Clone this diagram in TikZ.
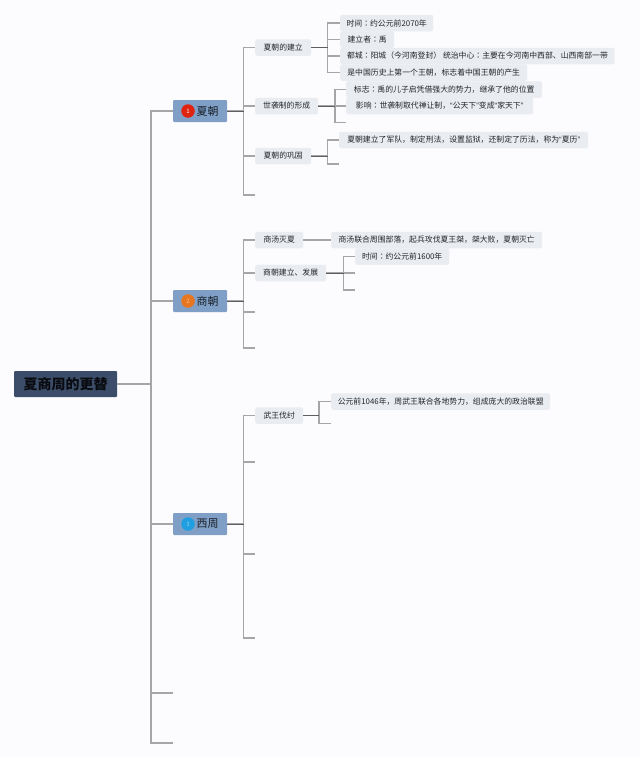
\documentclass[tikz,border=0pt]{standalone}
\usepackage{fontspec}
\setmainfont{Noto Sans CJK SC}
\newfontfamily\latinq{Liberation Sans}
\newfontfamily\tcfont{Noto Sans CJK TC}
\newcommand{\myopenq}{{\latinq “}}
\newcommand{\mycloseq}{{\latinq ”}}
\newcommand{\mycolon}{{\tcfont ：}}
\definecolor{bgc}{HTML}{FCFCFE}
\definecolor{rootc}{HTML}{3B4D68}
\definecolor{topicc}{HTML}{7F9FC6}
\definecolor{leafc}{HTML}{E9ECF1}
\definecolor{txtc}{HTML}{222529}
\definecolor{linec}{HTML}{A6A6A6}
\definecolor{stemc}{HTML}{5E5E5E}
\definecolor{badgea}{HTML}{E0230E}
\definecolor{badgeb}{HTML}{E8761E}
\definecolor{badgec}{HTML}{1F9FE0}
\tikzset{
  rootbox/.style={anchor=west,fill=rootc,rounded corners=1pt,inner sep=0pt,minimum width=103pt,minimum height=26pt,font=\fontsize{14}{16}\selectfont\bfseries,text=black!85!rootc},
  topicbox/.style={anchor=west,fill=topicc,rounded corners=1pt,inner sep=0pt,minimum width=54pt,minimum height=22pt,font=\fontsize{11}{13}\selectfont,text=black!80!topicc},
  leafbox/.style={anchor=west,fill=leafc,rounded corners=2pt,inner sep=0pt,minimum height=16.5pt,font=\fontsize{7.85}{9}\selectfont,text=txtc},
  conn/.style={draw=linec,line width=1.2pt},
  stem/.style={draw=stemc,line width=1pt},
  badge/.style={circle,inner sep=0pt,minimum size=13.5pt,font=\fontsize{6}{7}\selectfont}
}
\begin{document}
\begin{tikzpicture}[x=1pt,y=-1pt]
\useasboundingbox (0,0) rectangle (640,758);
\fill[bgc] (0,0) rectangle (640,758);
% junction columns
\coordinate (j0) at (151,0);
\coordinate (j1) at (243.5,0);
\coordinate (ja) at (327.5,0);
\coordinate (jb) at (335,0);
\coordinate (jc) at (327.5,0);
\coordinate (jd) at (343.5,0);
\coordinate (je) at (319,0);
% nodes
\node[rootbox] (root) at (14,384) {夏商周的更替};
\node[topicbox] (xia) at (173,111) {\hspace{15pt}夏朝};
\node[topicbox] (shang) at (173,301) {\hspace{15pt}商朝};
\node[topicbox] (zhou) at (173,524) {\hspace{15pt}西周};
\node[badge,fill=badgea,text=white] (b1) at (188,111) {1};
\node[badge,fill=badgeb,text=white!60!badgeb] (b2) at (188,301) {2};
\node[badge,fill=badgec,text=white!50!badgec] (b3) at (188,524) {3};
\coordinate (top4) at (173,693);
\coordinate (top5) at (173,743);
% Xia
\node[leafbox,minimum width=56pt] (x1) at (255,47.5) {夏朝的建立};
\node[leafbox,minimum width=63pt] (x2) at (255,106) {世袭制的形成};
\node[leafbox,minimum width=56pt] (x3) at (255,156) {夏朝的巩固};
\coordinate (x4) at (255,195);
\node[leafbox,minimum width=93pt] (x11) at (340,23) {时间\mycolon 约公元前2070年};
\node[leafbox,minimum width=54pt] (x12) at (340,39.5) {建立者\mycolon 禹};
\node[leafbox,minimum width=274.5pt] (x13) at (340,56) {都城\mycolon 阳城（今河南登封） 统治中心\mycolon 主要在今河南中西部、山西南部一带};
\node[leafbox,minimum width=187pt] (x14) at (340,72.5) {是中国历史上第一个王朝，标志着中国王朝的产生};
\node[leafbox,minimum width=196pt] (x21) at (346,89.5) {标志\mycolon 禹的儿子启凭借强大的势力，继承了他的位置};
\node[leafbox,minimum width=187pt] (x22) at (346,106) {影响\mycolon 世袭制取代禅让制，\myopenq 公天下\mycloseq 变成\myopenq 家天下\mycloseq};
\coordinate (x23) at (346,122.5);
\node[leafbox,minimum width=249pt] (x31) at (339,140) {夏朝建立了军队，制定刑法，设置监狱，还制定了历法，称为\myopenq 夏历\mycloseq};
\coordinate (x32) at (339,164);
% Shang
\node[leafbox,minimum width=48pt] (s1) at (255,240) {商汤灭夏};
\node[leafbox,minimum width=71pt] (s2) at (255,273) {商朝建立、发展};
\coordinate (s3) at (255,312);
\coordinate (s4) at (255,348);
\node[leafbox,minimum width=211pt] (s11) at (331,240) {商汤联合周围部落，起兵攻伐夏王桀，桀大败，夏朝灭亡};
\node[leafbox,minimum width=94pt] (s21) at (355,256.5) {时间\mycolon 约公元前1600年};
\coordinate (s22) at (355,273);
\coordinate (s23) at (355,290);
% Zhou
\node[leafbox,minimum width=48pt] (z1) at (255,415.5) {武王伐纣};
\coordinate (z2) at (255,462);
\coordinate (z3) at (255,554);
\coordinate (z4) at (255,638);
\node[leafbox,minimum width=219pt] (z11) at (331,401.5) {公元前1046年，周武王联合各地势力，组成庞大的政治联盟};
\coordinate (z12) at (331,423.5);
% connectors
\foreach \c in {xia,shang,zhou,top4,top5}
  \draw[conn] (root.east) -- (root.east -| j0) |- (\c);
\foreach \c in {x1,x2,x3,x4}
  \draw[conn] (xia.east) -- (xia.east -| j1) |- (\c);
\foreach \c in {s1,s2,s3,s4}
  \draw[conn] (shang.east) -- (shang.east -| j1) |- (\c);
\foreach \c in {z1,z2,z3,z4}
  \draw[conn] (zhou.east) -- (zhou.east -| j1) |- (\c);
\foreach \c in {x11,x12,x13,x14}
  \draw[conn] (x1.east) -- (x1.east -| ja) |- (\c);
\foreach \c in {x21,x22,x23}
  \draw[conn] (x2.east) -- (x2.east -| jb) |- (\c);
\foreach \c in {x31,x32}
  \draw[conn] (x3.east) -- (x3.east -| jc) |- (\c);
\draw[conn] (s1.east) -- (s11.west);
\foreach \c in {s21,s22,s23}
  \draw[conn] (s2.east) -- (s2.east -| jd) |- (\c);
\foreach \c in {z11,z12}
  \draw[conn] (z1.east) -- (z1.east -| je) |- (\c);
% darker stems
\draw[stem] (xia.east) -- (xia.east -| j1);
\draw[stem] (shang.east) -- (shang.east -| j1);
\draw[stem] (zhou.east) -- (zhou.east -| j1);
\draw[stem] (x1.east) -- (x1.east -| ja);
\draw[stem] (x2.east) -- (x2.east -| jb);
\draw[stem] (x3.east) -- (x3.east -| jc);
\draw[stem] (s2.east) -- (s2.east -| jd);
\draw[stem] (z1.east) -- (z1.east -| je);
\end{tikzpicture}
\end{document}
